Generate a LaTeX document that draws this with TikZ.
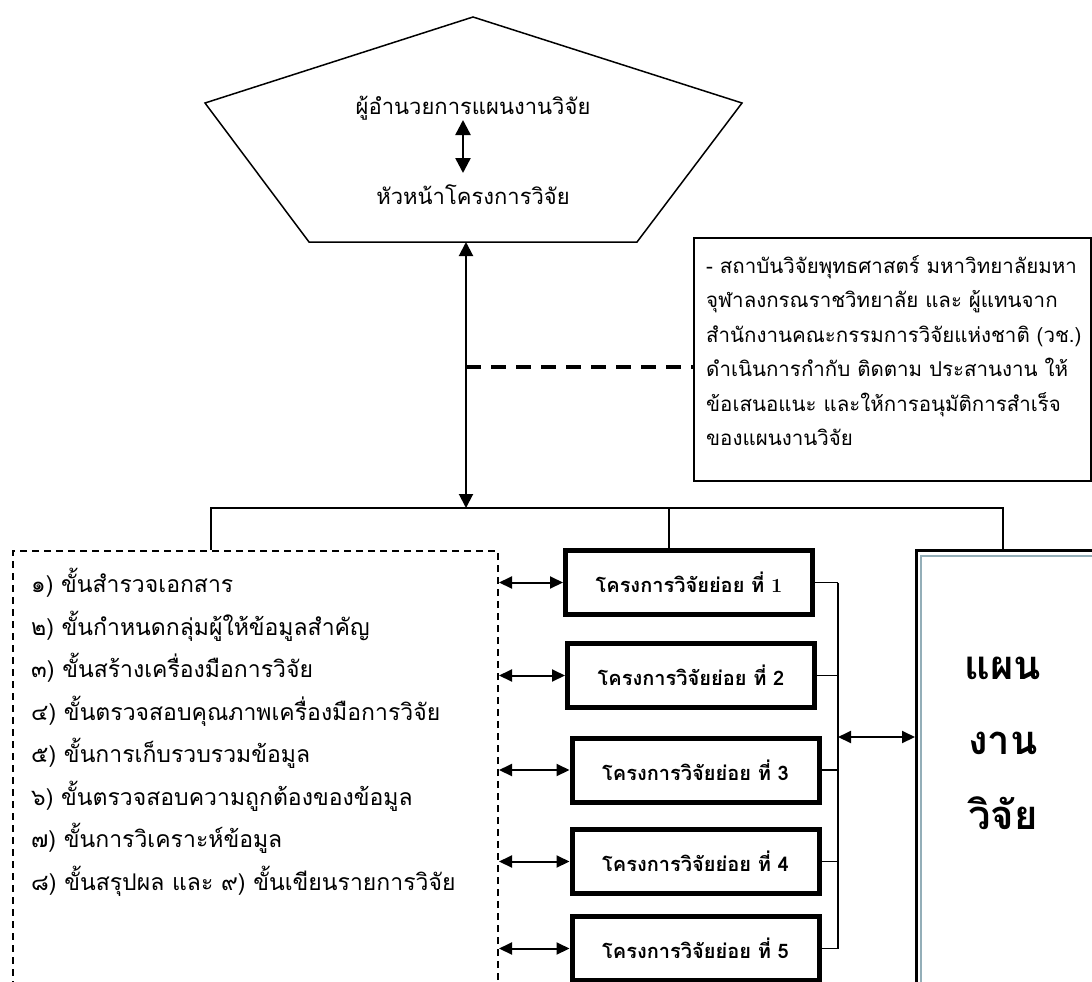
\documentclass[tikz,border=0pt]{standalone}
\usepackage{fontspec}
\newfontfamily\thaifont[Script=Thai]{Loma}
\usetikzlibrary{arrows.meta}
\usetikzlibrary{positioning}

\begin{document}
\begin{tikzpicture}
    [x=1pt,y=-1pt,
    title/.style={inner sep=0pt,font=\thaifont\fontsize{22}{26}\selectfont},
    subproject/.style={rectangle,draw=black,line width=5pt,
      inner sep=0pt,minimum width=247pt,minimum height=64pt,
      font=\thaifont\bfseries\fontsize{20}{24}\selectfont},
    link/.style={line width=1.3pt},
    twoway/.style={{Triangle[length=13pt,width=12pt]}-{Triangle[length=13pt,width=12pt]},line width=2pt}]

    \path[use as bounding box,clip] (0,0) rectangle (1092,982);

    % pentagon at the top
    \draw[line width=1.5pt] (473,17) -- (742,103) -- (637,242) -- (309,242) -- (205,103) -- cycle;
    \node (director) at (473,108) [title] {ผู้อำนวยการแผนงานวิจัย};
    \node (head)     at (473,195) [title] {หัวหน้าโครงการวิจัย};
    \coordinate (inner top) at (463,120);
    \coordinate (inner bottom) at (463,173);
    \draw[{Triangle[length=15pt,width=15pt]}-{Triangle[length=15pt,width=15pt]},line width=2.5pt]
      (inner top) -- (inner bottom);

    \coordinate (pent base) at (466,242);
    \coordinate (bus join)  at (466,508);
    \coordinate (dash start) at (466,367);
    \draw[{Triangle[length=14pt,width=14pt]}-{Triangle[length=14pt,width=14pt]},line width=2pt]
      (pent base) -- (bus join);

    % council box
    \node (council) at (693,237) [anchor=north west,rectangle,draw=black,line width=2pt,
      minimum width=397pt,minimum height=243pt] {};
    \node (council text) at (706,350.5) [anchor=west,inner sep=0pt,
      align=left,font=\thaifont\fontsize{20.5}{34.5}\selectfont]
      {- สถาบันวิจัยพุทธศาสตร์ มหาวิทยาลัยมหา\\
       จุฬาลงกรณราชวิทยาลัย และ ผู้แทนจาก\\
       สำนักงานคณะกรรมการวิจัยแห่งชาติ (วช.)\\
       ดำเนินการกำกับ ติดตาม ประสานงาน ให้\\
       ข้อเสนอแนะ และให้การอนุมัติการสำเร็จ\\
       ของแผนงานวิจัย};
    \draw[line width=4pt,dash pattern=on 15pt off 10pt] (dash start) -- (council.west |- dash start);

    % steps box
    \node (steps) at (12,550) [anchor=north west,rectangle,draw=black,line width=2pt,
      dash pattern=on 7pt off 5pt,minimum width=485pt,minimum height=460pt] {};
    \node (steplist) at (31,568) [anchor=north west,inner sep=0pt,align=left,
      font=\thaifont\fontsize{23}{42.5}\selectfont]
      {๑) ขั้นสำรวจเอกสาร\\
       ๒) ขั้นกำหนดกลุ่มผู้ให้ข้อมูลสำคัญ\\
       ๓) ขั้นสร้างเครื่องมือการวิจัย\\
       ๔) ขั้นตรวจสอบคุณภาพเครื่องมือการวิจัย\\
       ๕) ขั้นการเก็บรวบรวมข้อมูล\\
       ๖) ขั้นตรวจสอบความถูกต้องของข้อมูล\\
       ๗) ขั้นการวิเคราะห์ข้อมูล\\
       ๘) ขั้นสรุปผล และ ๙) ขั้นเขียนรายการวิจัย};

    % sub projects
    \node (sub 1) at (689,582.5) [subproject] {โครงการวิจัยย่อย ที่ \textrm{1}};
    \node (sub 2) at (691,675.5) [subproject] {โครงการวิจัยย่อย ที่ 2};
    \node (sub 3) at (695.5,770) [subproject] {โครงการวิจัยย่อย ที่ 3};
    \node (sub 4) at (695.5,861.5) [subproject] {โครงการวิจัยย่อย ที่ 4};
    \node (sub 5) at (695.5,948.5) [subproject] {โครงการวิจัยย่อย ที่ 5};

    \draw[twoway] (sub 1.west -| steps.east) -- (sub 1.west);
    \draw[twoway] (sub 2.west -| steps.east) -- (sub 2.west);
    \draw[twoway] (sub 3.west -| steps.east) -- (sub 3.west);
    \draw[twoway] (sub 4.west -| steps.east) -- (sub 4.west);
    \draw[twoway] (sub 5.west -| steps.east) -- (sub 5.west);

    % research plan box
    \node (plan) at (915,549) [anchor=north west,rectangle,draw=black,line width=2.5pt,
      minimum width=200pt,minimum height=460pt] {};
    \draw[draw={rgb,255:red,147;green,174;blue,184},line width=2.5pt]
      ([shift={(6,7)}]plan.north west) rectangle ([shift={(-6,-7)}]plan.south east);
    \node (plan text) at (1003,743) [align=center,
      font=\thaifont\bfseries\fontsize{40}{75}\selectfont] {แผน\\งาน\\วิจัย};

    % rail on the right of the sub projects
    \coordinate (rail) at (838,737);
    \draw[link] (sub 1.east) -- (sub 1.east -| rail);
    \draw[link] (sub 2.east) -- (sub 2.east -| rail);
    \draw[link] (sub 3.east) -- (sub 3.east -| rail);
    \draw[link] (sub 4.east) -- (sub 4.east -| rail);
    \draw[link] (sub 5.east) -- (sub 5.east -| rail);
    \draw[link] (sub 1.east -| rail) -- (sub 5.east -| rail);
    \draw[twoway] (rail) -- (rail -| plan.west);

    % bus under the pentagon
    \coordinate (bus left)  at (211,508);
    \coordinate (bus mid)   at (669,508);
    \coordinate (bus right) at (1003,508);
    \draw[link] (bus left |- steps.north) -- (bus left) -- (bus right) -- (bus right |- plan.north);
    \draw[link] (bus mid) -- (bus mid |- sub 1.north);

  \end{tikzpicture}
\end{document}
